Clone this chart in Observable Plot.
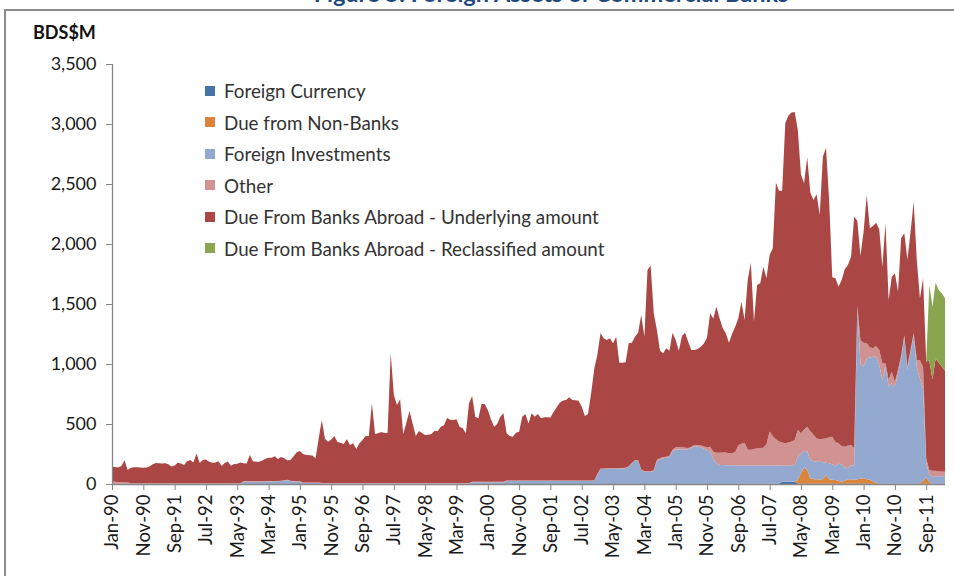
<!DOCTYPE html>
<html>
<head>
<meta charset="utf-8">
<script src="https://cdn.jsdelivr.net/npm/d3@7"></script>
<script src="https://cdn.jsdelivr.net/npm/@observablehq/plot@0.6"></script>
<style>
  html, body { margin: 0; padding: 0; background: #fff; }
  body { position: relative; width: 954px; height: 576px; overflow: hidden; font-family: Lato, "Open Sans", sans-serif; }
  #frame { position: absolute; left: 4px; top: 9px; width: 2000px; height: 2000px; border: 2px solid #8a8a8a; box-sizing: border-box; }
  #title { position: absolute; top: -18px; left: 551px; transform: translateX(-50%); white-space: nowrap;
           font: bold 23.5px/23px Lato, sans-serif; color: #1F497D; }
  #unit { position: absolute; left: 33px; top: 21px; font: bold 18px/22px Lato, sans-serif; color: #111; }
  #chart { position: absolute; left: 0; top: 0; }
  #legend { position: absolute; left: 205px; top: 75px; }
  .row { display: flex; align-items: center; height: 31.5px; font: 18.8px Lato, sans-serif; color: #333; white-space: nowrap; }
  .sw { width: 10px; height: 10px; margin-right: 9px; flex: none; }
</style>
</head>
<body>
<div id="frame"></div>
<div id="title">Figure 5: Foreign Assets of Commercial Banks</div>
<div id="chart"></div>
<div id="unit">BDS$M</div>
<div id="legend"></div>
<script>
// ---------- DATA (BDS$ millions, monthly, Jan-1990 .. Mar-2012) ----------
const firstMonth = new Date(Date.UTC(1990, 0, 1));
const lastMonth = new Date(Date.UTC(2012, 2, 1));

const seriesNames = [
  "Foreign Currency",
  "Due from Non-Banks",
  "Foreign Investments",
  "Other",
  "Due From Banks Abroad - Underlying amount",
  "Due From Banks Abroad - Reclassified amount"
];
const seriesColors = ["#4572A7", "#DB843D", "#93A9CF", "#D19392", "#AA4643", "#89A54E"];

const tickLabels = ["Jan-90","Nov-90","Sep-91","Jul-92","May-93","Mar-94","Jan-95","Nov-95","Sep-96",
  "Jul-97","May-98","Mar-99","Jan-00","Nov-00","Sep-01","Jul-02","May-03","Mar-04","Jan-05","Nov-05",
  "Sep-06","Jul-07","May-08","Mar-09","Jan-10","Nov-10","Sep-11"];
const yTicks = [0, 500, 1000, 1500, 2000, 2500, 3000, 3500];

// Foreign Currency (starts Sep-06; earlier values negligible)
const foreignCurrencyStart = "Sep-06";
const foreignCurrency = [
  2,2,2,2,2,2,2,2,2,2,2,2,2,2,
  18,18,18,18,18,
  2,2,2,2,2,2,2,2,2,2,2,2,2,2,2,2,2,2,2,2,2,2,2,2,
  2,2,2,2,2,2,2,2,2,2,2,2,2,2,2,2,2,2,2,2,2,2,2,2
];

// Due from Non-Banks (starts Feb-08)
const dueNonBanksStart = "Feb-08";
const dueNonBanks = [
  0,2,31,87,137,115,45,38,37,36,38,73,38,34,31,23,18,23,37,36,34,
  38,43,45,38,33,18,8,3,1,0,0,0,0,0,0,0,0,0,1,3,8,20,55,15,0,0,0,0,0
];

// Foreign Investments (Jan-90 ..)
const foreignInvestments = [
  2,2,2,2,2,2,2,2,2,2,2,2,2,2,2,2,2,2,2,2,2,2,2,2,2,2,2,2,2,2,2,2,2,2,2,2,2,2,2,2,2,2,
  18,18,18,18,18,18,18,18,20,22,22,22,24,28,32,24,20,18,18,
  8,8,8,8,8,8,
  4,4,4,4,4,4,4,4,4,4,4,4,4,4,4,4,4,4,4,4,4,4,4,4,4,4,4,4,4,4,4,4,4,4,4,4,4,4,4,4,4,4,4,4,4,4,4,4,
  14,14,14,14,14,14,14,14,14,14,14,
  26,26,26,26,26,26,26,26,26,26,26,26,26,26,26,26,26,26,26,26,26,26,26,26,26,26,26,26,
  28,80,125,126,127,127,128,128,129,130,132,
  144,170,194,194,117,103,103,103,110,
  192,205,214,218,225,275,285,289,288,288,289,300,317,312,306,295,280,270,210,175,158,158,157,157,156,156,
  153,153,153,153,153,153,153,153,153,153,153,153,153,153,135,135,135,135,140,
  195,166,136,153,153,150,147,156,142,103,132,129,117,143,145,115,92,120,114,
  1424,961,931,1007,1020,1041,1051,987,864,975,809,837,809,918,1048,1220,948,1097,1237,968,869,
  770,115,60,63,63,63,63,63
];

// Other (Jan-90 ..)
const other = [
  18,16,15,14,12,10,
  4,4,4,4,4,4,4,4,4,4,4,4,
  4,4,4,4,4,4,4,4,4,4,4,4,
  4,4,4,4,4,4,4,4,4,4,4,4,
  4,4,4,4,4,4,4,4,4,4,4,4,
  4,4,4,4,4,4,4,4,4,4,4,4,
  4,4,4,4,4,4,4,4,4,4,4,4,
  4,4,4,4,4,4,4,4,4,4,4,4,
  4,4,4,4,4,4,4,4,4,4,4,4,
  4,4,4,4,4,4,4,4,4,4,4,4,
  4,4,4,4,4,4,4,4,4,4,4,4,
  4,4,4,4,4,4,4,4,4,4,4,4,
  4,4,4,4,4,4,4,4,4,4,4,4,
  4,4,4,4,4,4,4,4,4,4,4,4,
  4,4,4,4,4,4,4,4,4,4,4,4,
  10,10,10,10,10,10,
  22,20,18,15,12,10,8,10,15,20,25,40,60,85,103,105,105,100,100,110,
  167,180,186,130,130,137,142,144,147,177,283,242,217,200,
  192,186,192,202,205,222,167,180,208,240,220,194,178,196,202,218,229,200,171,150,171,189,167,147,
  20,194,200,125,85,70,89,125,139,28,56,97,40,30,20,18,30,20,18,62,153,
  180,40,40,45,45,40,40,38
];

// Due From Banks Abroad - Underlying amount (Jan-90 ..)
const dueBanksUnderlying = [
  123,123,121,133,183,105,
  129,134,134,132,130,132,139,159,169,166,164,166,159,139,149,172,164,152,184,194,174,249,169,194,199,179,172,174,184,144,169,182,146,160,162,174,
  150,148,220,168,164,164,173,188,195,193,206,183,198,183,
  162,
  173,208,243,253,
  238,230,228,226,202,368,
  525,370,345,362,392,342,336,325,364,317,332,284,332,359,392,392,664,409,414,425,417,420,1081,734,650,698,409,502,600,497,392,434,417,400,402,409,436,432,470,481,542,527,525,531,470,456,414,664,
  715,543,529,649,649,599,522,460,482,543,571,
  392,370,364,398,406,531,553,475,559,531,553,517,526,526,525,570,610,648,665,670,692,670,667,664,614,537,553,726,
  928,996,
  1127,1084,1069,1084,1040,1096,878,877,879,
  1024,1004,1030,1063,1287,1121,1676,1713,1308,
  1081,896,865,903,876,976,
  893,802,927,958,885,807,792,803,823,855,915,1110,1110,1218,1120,1037,994,921,994,1045,
  1059,1184,1026,1415,1559,1061,1361,1373,1509,1382,1470,1567,2139,2089,
  2099,2667,2725,2740,2735,
  2500,2158,2051,2244,1988,1957,2034,1870,2350,2423,1977,1328,1364,1305,1385,1478,1505,1569,1931,
  710,700,922,1236,991,1019,1028,1005,805,1167,666,792,905,653,977,849,887,980,1093,827,514,
  742,808,913,760,935,905,875,841
];

// Due From Banks Abroad - Reclassified amount (starts Sep-11)
const dueBanksReclassStart = "Sep-11";
const dueBanksReclass = [0, 628, 608, 633, 607, 610, 603];

// ---------- TABLE ----------
const fmt = d3.utcFormat("%b-%y");
const months = d3.utcMonth.range(firstMonth, d3.utcMonth.offset(lastMonth, 1));
const idxOf = label => months.findIndex(d => fmt(d) === label);

const seriesData = [
  {values: foreignCurrency, start: idxOf(foreignCurrencyStart)},
  {values: dueNonBanks, start: idxOf(dueNonBanksStart)},
  {values: foreignInvestments, start: 0},
  {values: other, start: 0},
  {values: dueBanksUnderlying, start: 0},
  {values: dueBanksReclass, start: idxOf(dueBanksReclassStart)}
];

const rows = [];
months.forEach((d, i) => {
  seriesNames.forEach((s, k) => {
    const sd = seriesData[k];
    const j = i - sd.start;
    rows.push({i, month: d, series: s, value: (j >= 0 && j < sd.values.length) ? sd.values[j] : 0});
  });
});

const tickIdx = tickLabels.map(idxOf);
const lastIdx = months.length - 1;

const chart = Plot.plot({
  width: 954,
  height: 576,
  marginLeft: 112,
  marginRight: 9,
  marginTop: 64,
  marginBottom: 92,
  style: {background: "transparent", fontFamily: "Lato, sans-serif", overflow: "visible"},
  x: {type: "linear", domain: [0, lastIdx], axis: null},
  y: {domain: [0, 3500], axis: null},
  color: {domain: seriesNames, range: seriesColors},
  marks: [
    Plot.areaY(rows, {x: "i", y: "value", z: "series", fill: "series", order: seriesNames, curve: "linear"}),
    Plot.ruleX([0], {y1: 0, y2: 3500, stroke: "#868686", strokeWidth: 1.3}),
    Plot.ruleY([0], {stroke: "#868686", strokeWidth: 1.3}),
    Plot.axisY({ticks: yTicks, tickFormat: d3.format(","), tickSize: 6, tickPadding: 10,
      stroke: "#868686", fill: "#1a1a1a", fontSize: 18, label: null}),
    Plot.axisX({ticks: tickIdx, tickFormat: i => fmt(months[i]), tickSize: 6, tickPadding: 4,
      tickRotate: -90, stroke: "#868686", fill: "#1a1a1a", fontSize: 18.5, label: null})
  ]
});
document.getElementById("chart").appendChild(chart);

// ---------- LEGEND ----------
const legend = document.getElementById("legend");
seriesNames.forEach((s, k) => {
  const row = document.createElement("div");
  row.className = "row";
  const sw = document.createElement("span");
  sw.className = "sw";
  sw.style.background = seriesColors[k];
  const t = document.createElement("span");
  t.textContent = s;
  row.appendChild(sw);
  row.appendChild(t);
  legend.appendChild(row);
});
</script>
</body>
</html>
